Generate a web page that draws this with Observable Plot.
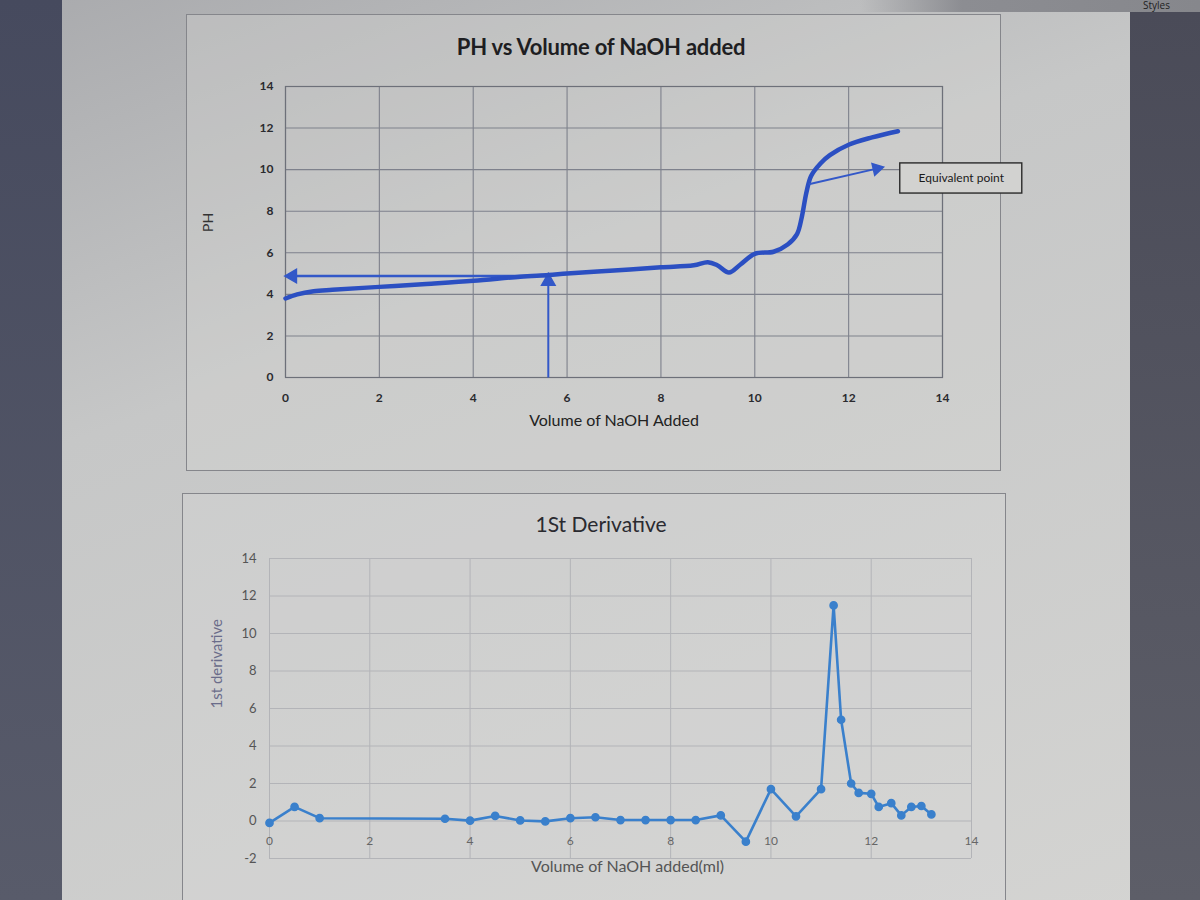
<!DOCTYPE html>
<html>
<head>
<meta charset="utf-8">
<script src="https://cdn.jsdelivr.net/npm/d3@7"></script>
<script src="https://cdn.jsdelivr.net/npm/@observablehq/plot@0.6"></script>
<style>
  html, body { margin: 0; padding: 0; }
  body {
    width: 1200px; height: 900px; overflow: hidden; position: relative;
    background: linear-gradient(160deg, #a9aaad 0%, #c6c7c7 35%, #d4d4d2 100%);
    font-family: Lato, "Open Sans", sans-serif;
  }
  .abs { position: absolute; }
  .panel { position: absolute; border: 1px solid #85868b; box-sizing: border-box; }
  .title { position: absolute; transform: translate(-50%, -50%); white-space: nowrap; color: #1e1e22; }
</style>
</head>
<body>
<div class="abs" style="left:0;top:0;width:62px;height:900px;background:linear-gradient(180deg,#464a5e,#585b6a);"></div>
<div class="abs" style="left:1130px;top:12px;width:70px;height:888px;background:linear-gradient(180deg,#4a4b58,#5d5e68);"></div>
<div class="abs" style="left:860px;top:0;width:340px;height:12px;background:linear-gradient(90deg,rgba(140,141,146,0),#8c8d92 30%,#86878c);"></div>
<div class="abs" style="left:1143px;top:0px;font-size:10px;line-height:10px;color:#222;font-family:'Open Sans',sans-serif;">Styles</div>

<div class="panel" style="left:186px;top:14px;width:815px;height:457px;background:rgba(214,214,212,0.35);"></div>
<div class="panel" style="left:182px;top:493px;width:824px;height:420px;background:rgba(220,220,218,0.3);"></div>

<div class="title" style="left:601px;top:46px;font-size:22px;font-weight:bold;letter-spacing:-0.2px;">PH vs Volume of NaOH added</div>
<div class="title" style="left:601px;top:523px;font-size:21px;color:#2a2a30;">1St Derivative</div>

<div id="top" class="abs" style="left:182px;top:60px;"></div>
<div id="bottom" class="abs" style="left:182px;top:540px;"></div>

<script>
// ---- Titration curve (hand-drawn pH curve) ----
const phVolume = [0, 0.25, 0.6, 1, 2, 3, 4, 5, 5.6, 6, 7, 8, 8.7, 9.0, 9.2, 9.45, 9.7, 10.0, 10.4, 10.7, 10.9, 11.0, 11.1, 11.2, 11.4, 11.6, 12.0, 12.5, 13.05];
const phValue  = [3.8, 4.0, 4.15, 4.22, 4.36, 4.5, 4.65, 4.85, 4.93, 5.0, 5.15, 5.3, 5.4, 5.55, 5.4, 5.05, 5.45, 5.95, 6.05, 6.4, 6.9, 7.7, 8.9, 9.7, 10.3, 10.7, 11.2, 11.55, 11.85];

// half-equivalence construction arrows
const halfEqVolume = 5.6;
const halfEqPH = 4.88;
// equivalence point pointer
const eqArrowVolume = [11.15, 12.6];
const eqArrowPH = [9.3, 10.05];
const eqLabel = "Equivalent point";
const eqBoxVolume = [13.1, 15.7];
const eqBoxPH = [8.85, 10.3];

// ---- First derivative ----
const derivVolume = [0, 0.5, 1, 3.5, 4, 4.5, 5, 5.5, 6, 6.5, 7, 7.5, 8, 8.5, 9, 9.5, 10, 10.5, 11, 11.25, 11.4, 11.6, 11.75, 12, 12.15, 12.4, 12.6, 12.8, 13, 13.2];
const derivValue  = [-0.1, 0.75, 0.15, 0.12, 0.02, 0.27, 0.03, -0.02, 0.15, 0.2, 0.05, 0.05, 0.05, 0.05, 0.3, -1.1, 1.7, 0.25, 1.7, 11.5, 5.4, 2.0, 1.5, 1.45, 0.75, 0.95, 0.3, 0.75, 0.8, 0.35];

const xTickValues = [0, 2, 4, 6, 8, 10, 12, 14];
const phTicks = [0, 2, 4, 6, 8, 10, 12, 14];
const derivTicks = [-2, 0, 2, 4, 6, 8, 10, 12, 14];

const phData = phVolume.map((v, i) => ({vol: v, ph: phValue[i]}));
const derivData = derivVolume.map((v, i) => ({vol: v, d: derivValue[i]}));

const penBlue = "#2b4fc2";
const arrowBlue = "#3358c8";
const font = "Lato, 'Open Sans', sans-serif";

const topPlot = Plot.plot({
  width: 850, height: 382,
  marginLeft: 103, marginRight: 90, marginTop: 26, marginBottom: 65,
  style: {background: "transparent", fontFamily: font, overflow: "visible"},
  x: {domain: [0, 14], axis: null},
  y: {domain: [0, 14], axis: null},
  marks: [
    Plot.gridX(xTickValues, {stroke: "#7e818c", strokeOpacity: 1, strokeWidth: 1.1}),
    Plot.gridY(phTicks, {stroke: "#7e818c", strokeOpacity: 1, strokeWidth: 1.1}),
    Plot.frame({stroke: "#6d7079", strokeWidth: 1.2}),
    Plot.axisX(xTickValues, {tickSize: 0, tickPadding: 16, label: null, fontSize: 12, fontWeight: "bold", fill: "#2a2a2e"}),
    Plot.axisY(phTicks, {tickSize: 0, tickPadding: 12, label: null, fontSize: 12, fontWeight: "bold", fill: "#2a2a2e"}),
    Plot.text(["Volume of NaOH Added"], {frameAnchor: "bottom", dy: 48, fontSize: 16, fill: "#222"}),
    Plot.text(["PH"], {frameAnchor: "left", dx: -77, rotate: -90, fontSize: 14, fill: "#333"}),
    // construction arrows
    Plot.link([0], {x1: halfEqVolume, y1: halfEqPH, x2: 0.15, y2: halfEqPH, stroke: arrowBlue, strokeWidth: 2.6}),
    Plot.dot([0], {x: 0.15, y: halfEqPH, symbol: "triangle", rotate: -90, r: 5, fill: arrowBlue, stroke: arrowBlue}),
    Plot.link([0], {x1: halfEqVolume, y1: 0, x2: halfEqVolume, y2: halfEqPH - 0.2, stroke: arrowBlue, strokeWidth: 2}),
    Plot.dot([0], {x: halfEqVolume, y: halfEqPH - 0.25, symbol: "triangle", rotate: 0, r: 5, fill: arrowBlue, stroke: arrowBlue}),
    // pH curve
    Plot.line(phData, {x: "vol", y: "ph", curve: "catmull-rom", stroke: penBlue, strokeWidth: 4.5, strokeLinecap: "round", strokeLinejoin: "round"}),
    // equivalence point pointer
    Plot.link([0], {x1: eqArrowVolume[0], y1: eqArrowPH[0], x2: eqArrowVolume[1], y2: eqArrowPH[1], stroke: arrowBlue, strokeWidth: 2}),
    Plot.dot([0], {x: eqArrowVolume[1], y: eqArrowPH[1], symbol: "triangle", rotate: 77, r: 4.5, fill: arrowBlue, stroke: arrowBlue}),
    Plot.rect([0], {x1: eqBoxVolume[0], x2: eqBoxVolume[1], y1: eqBoxPH[0], y2: eqBoxPH[1], fill: "#d2d2d0", stroke: "#2a2a2a", strokeWidth: 1.4}),
    Plot.text([eqLabel], {x: (eqBoxVolume[0] + eqBoxVolume[1]) / 2, y: (eqBoxPH[0] + eqBoxPH[1]) / 2, fontSize: 12, fill: "#1a1a1a", letterSpacing: "-0.3px"})
  ]
});
document.getElementById("top").appendChild(topPlot);

const derivBlue = "#3a80cc";
const bottomPlot = Plot.plot({
  width: 824, height: 350,
  marginLeft: 87, marginRight: 35, marginTop: 18, marginBottom: 32,
  style: {background: "transparent", fontFamily: font, overflow: "visible"},
  x: {domain: [0, 14], axis: null},
  y: {domain: [-2, 14], axis: null},
  marks: [
    Plot.gridX(xTickValues, {stroke: "#b3b4b8", strokeOpacity: 1}),
    Plot.gridY(derivTicks, {stroke: "#b3b4b8", strokeOpacity: 1}),
    Plot.axisY(derivTicks, {tickSize: 0, tickPadding: 13, label: null, fontSize: 13, fill: "#555", tickFormat: d => String(d)}),
    Plot.text(xTickValues, {x: d => d, y: 0, dy: 20, text: d => String(d), fontSize: 12, fill: "#666"}),
    Plot.text(["Volume of NaOH added(ml)"], {frameAnchor: "bottom", dy: 13, dx: 7, fontSize: 16, fill: "#555"}),
    Plot.text(["1st derivative"], {frameAnchor: "left", dx: -52, rotate: -90, fontSize: 15, fill: "#6a6c8a"}),
    Plot.line(derivData, {x: "vol", y: "d", stroke: derivBlue, strokeWidth: 2.6}),
    Plot.dot(derivData, {x: "vol", y: "d", r: 3.6, fill: derivBlue, stroke: derivBlue})
  ]
});
document.getElementById("bottom").appendChild(bottomPlot);
</script>
</body>
</html>
